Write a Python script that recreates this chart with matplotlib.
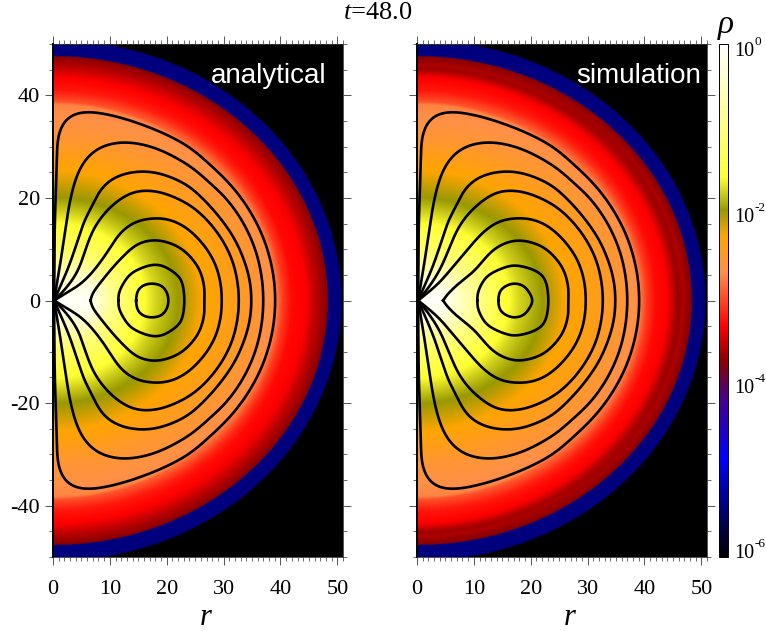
#!/usr/bin/env python
# -*- coding: utf-8 -*-
"""Density map and field lines at t=48: analytical solution vs simulation."""

import numpy as np
import matplotlib
matplotlib.use("Agg")
import matplotlib.pyplot as plt
from matplotlib.colors import LinearSegmentedColormap, LogNorm
from matplotlib.ticker import MultipleLocator

# log10(rho) read along the pole and along the midplane
R_POLE = [0, 5, 10, 15, 20, 26, 32, 38.3, 38.8, 41, 43.5, 45, 47.8]
LOG_POLE = [0, -0.53, -1.21, -1.56, -1.94, -2.28, -2.56, -2.73, -2.95, -3.2, -3.31, -3.48, -3.72]
R_EQ = [0, 7, 10, 15, 18, 22, 26, 30, 35, 39, 40.5, 42, 44.5, 46, 48.4]
LOG_EQ = [0, -0.13, -0.80, -1.47, -1.72, -1.94, -2.24, -2.34, -2.52, -2.69, -3.05, -3.26, -3.31, -3.5, -3.72]

# simulation has a few darker stripes in the outer shell
R_POLE_SIM = [0, 4, 10, 15, 20, 26, 32, 38.3, 38.8, 41, 43.5, 44.5, 45.3, 46, 46.6, 47.8]
LOG_POLE_SIM = [0, -0.34, -1.21, -1.56, -1.94, -2.28, -2.56, -2.73, -2.95, -3.2, -3.31, -3.5, -3.64, -3.56, -3.64, -3.72]
R_EQ_SIM = [0, 5, 10, 15, 18, 22, 26, 30, 35, 39, 40.5, 42, 44, 45, 46, 46.8, 47.6, 48.4]
LOG_EQ_SIM = [0, -0.11, -0.80, -1.47, -1.72, -1.94, -2.24, -2.34, -2.52, -2.69, -3.05, -3.26, -3.31, -3.48, -3.66, -3.56, -3.66, -3.72]

LOG_FLOOR = -5.4
R_SHELL_POLE = 47.7
R_SHELL_EQ = 48.4
R_OUTER = 50.8

# upper half of each field line, outer to inner (mirrored about z=0 when drawn)
LINES_ANALYTICAL = [
    ([0.2, 0.3, 0.65, 0.76, 1.2, 2.4, 4.2, 6.5, 9.5, 13.0, 17.1, 20.6, 24.1, 27.6, 31.2, 34.1, 36.4, 37.9, 38.8, 39.1],
     [0, 13.8, 26.2, 30.7, 33.3, 35.6, 36.6, 36.8, 36.3, 35.3, 33.7, 32.0, 29.8, 26.5, 22.6, 18.4, 13.8, 9.3, 4.7, 0]),
    ([0.2, 1.2, 2.1, 2.7, 3.6, 4.8, 6.5, 8.9, 12.4, 15.9, 19.4, 24.1, 27.6, 30.6, 33.5, 35.6, 36.7, 37.0],
     [0, 6.7, 13.2, 17.7, 22.3, 25.9, 28.5, 30.2, 30.9, 30.4, 29.1, 26.2, 22.9, 19.7, 15.1, 9.9, 4.7, 0]),
    ([0.2, 2.7, 4.2, 5.6, 6.9, 8.3, 10.6, 13.6, 16.5, 19.4, 23.5, 26.5, 29.4, 32.0, 33.8, 34.7, 34.9],
     [0, 6.4, 11.2, 15.8, 18.4, 21.6, 23.9, 25.0, 25.2, 24.6, 22.6, 19.7, 16.1, 11.9, 7.3, 3.4, 0]),
    ([0.2, 2.4, 4.5, 5.9, 7.4, 9.6, 11.8, 14.1, 16.5, 19.4, 23.5, 26.5, 29.4, 31.5, 32.5, 32.7],
     [0, 2.5, 6.0, 10.6, 14.5, 17.7, 19.8, 21.2, 21.5, 21.0, 19.0, 16.4, 12.5, 8.0, 3.4, 0]),
    ([0.2, 2.4, 4.8, 7.1, 9.5, 11.8, 14.7, 18.3, 20.6, 23.5, 26.5, 28.5, 29.5, 29.7],
     [0, 1.5, 3.1, 5.7, 9.3, 13.2, 15.5, 16.1, 15.8, 14.2, 10.9, 7.3, 3.4, 0]),
    ([6.6, 6.8, 9.5, 11.8, 14.7, 17.7, 20.6, 23.2, 25.6, 26.6, 26.6],
     [0, 1.2, 5.1, 8.0, 10.9, 11.8, 11.2, 9.6, 6.4, 2.8, 0]),
    ([11.5, 11.8, 13.6, 16.5, 18.8, 21.0, 22.6, 23.1],
     [0, 2.1, 5.1, 6.7, 6.9, 5.7, 3.8, 0]),
    ([14.6, 15.0, 16.2, 17.7, 19.2, 20.1, 20.3],
     [0, 2.1, 3.1, 3.3, 2.8, 1.4, 0]),
]
LINES_SIMULATION = [
    ([0.2, 0.3, 0.65, 0.76, 1.2, 2.4, 4.2, 6.5, 9.5, 13.0, 17.1, 20.6, 24.1, 27.6, 31.2, 34.1, 36.4, 37.9, 38.8, 39.1],
     [0, 13.8, 26.2, 30.7, 33.3, 35.6, 36.6, 36.8, 36.3, 35.3, 33.7, 32.0, 29.8, 26.5, 22.6, 18.4, 13.8, 9.3, 4.7, 0]),
    ([0.2, 1.2, 2.1, 2.7, 3.6, 4.8, 6.5, 8.9, 12.4, 15.9, 19.4, 24.1, 27.6, 30.6, 33.5, 35.6, 36.7, 37.0],
     [0, 6.7, 13.2, 17.7, 22.3, 25.9, 28.5, 30.2, 30.9, 30.4, 29.1, 26.2, 22.9, 19.7, 15.1, 9.9, 4.7, 0]),
    ([0.2, 2.7, 4.2, 5.6, 6.9, 8.3, 10.6, 13.6, 16.5, 19.4, 23.5, 26.5, 29.4, 32.0, 33.8, 34.7, 34.9],
     [0, 6.4, 11.2, 15.8, 18.4, 21.6, 23.9, 25.0, 25.2, 24.6, 22.6, 19.7, 16.1, 11.9, 7.3, 3.4, 0]),
    ([0.2, 1.8, 3.9, 5.6, 7.1, 9.15, 11.8, 14.1, 16.5, 19.4, 23.5, 26.5, 29.4, 31.5, 32.5, 32.7],
     [0, 2.15, 5.7, 9.95, 13.9, 17.1, 19.7, 21.2, 21.5, 21.0, 19.0, 16.4, 12.5, 8.0, 3.4, 0]),
    ([0.2, 3.6, 5.9, 8.9, 11.5, 14.4, 17.7, 20.6, 23.5, 26.5, 28.5, 29.5, 29.7],
     [0, 3.1, 6.0, 9.95, 13.2, 15.5, 16.1, 15.8, 14.2, 10.9, 7.3, 3.4, 0]),
    ([4.6, 4.75, 7.1, 10.0, 13.5, 17.1, 20.6, 23.2, 25.6, 26.6, 26.6],
     [0, 0.5, 3.1, 5.7, 9.95, 11.7, 11.2, 9.6, 6.4, 2.8, 0]),
    ([10.6, 10.9, 12.4, 15.3, 17.7, 21.0, 22.6, 23.1],
     [0, 2.15, 4.75, 6.4, 6.8, 5.7, 3.8, 0]),
    ([14.3, 14.8, 16.8, 18.8, 20.1, 20.3],
     [0, 2.15, 3.3, 2.8, 0.9, 0]),
]
# the two innermost lines are round on both sides, the others have a cusp
N_ROUND = 2

CB_TICKS = [1e0, 1e-2, 1e-4, 1e-6]
CB_EXPONENTS = ["0", "-2", "-4", "-6"]

plt.rcParams["font.family"] = "Liberation Serif"
plt.rcParams["mathtext.fontset"] = "custom"
plt.rcParams["mathtext.rm"] = "Liberation Serif"
plt.rcParams["mathtext.it"] = "Liberation Serif:italic"
plt.rcParams["axes.unicode_minus"] = False

# colour scale, positions are fractions of the 6 decades
cmap = LinearSegmentedColormap.from_list("rho", [
    (0.0, "#000000"), (0.10, "#000080"), (0.192, "#0000ff"), (0.315, "#4b0082"),
    (0.384, "#8b0000"), (0.45, "#ff0000"), (0.555, "#ff9048"), (0.625, "#ffa500"),
    (0.676, "#999900"), (0.74, "#ffff33"), (1.0, "#ffffff"),
], N=512)
norm = LogNorm(1e-6, 1e0)


def density_map(r_pole, log_pole, r_eq, log_eq):
    x = np.linspace(0, 51, 520)
    z = np.linspace(-50, 50, 1000)
    X, Z = np.meshgrid(x, z)
    R = np.hypot(X, Z)
    s = (X / np.maximum(R, 1e-6)) ** 2
    log_rho = (1 - s) * np.interp(R, r_pole, log_pole) + s * np.interp(R, r_eq, log_eq)
    log_rho[R > R_SHELL_POLE + (R_SHELL_EQ - R_SHELL_POLE) * s] = LOG_FLOOR
    log_rho[R > R_OUTER] = -6
    return 10.0 ** log_rho


def catmull_rom(px, py, closed=False, n=24):
    pts = np.column_stack([px, py])
    if closed:
        pts = np.vstack([pts[-1], pts, pts[:2]])
    else:
        pts = np.vstack([2 * pts[0] - pts[1], pts, 2 * pts[-1] - pts[-2]])
    t = np.linspace(0, 1, n, endpoint=False)[:, None]
    out = []
    for i in range(1, len(pts) - 2):
        p0, p1, p2, p3 = pts[i - 1], pts[i], pts[i + 1], pts[i + 2]
        out.append(0.5 * (2 * p1 + (p2 - p0) * t + (2 * p0 - 5 * p1 + 4 * p2 - p3) * t ** 2
                          + (3 * p1 - p0 - 3 * p2 + p3) * t ** 3))
    out.append(pts[-2][None, :])
    return np.vstack(out)


def smooth_curve(curve, closed=False, sigma=1.0, step=0.05):
    """Resample a spline by arc length and blur away the reading jitter."""
    dist = np.r_[0, np.cumsum(np.hypot(*np.diff(curve, axis=0).T))]
    s = np.arange(0, dist[-1] + step, step)
    half = min(int(4 * sigma / step), len(s) - 1)
    kernel = np.exp(-0.5 * (np.arange(-half, half + 1) * step / sigma) ** 2)
    kernel /= kernel.sum()

    def blur(v):
        if closed:
            padded = np.r_[v[-half - 1:-1], v, v[1:half + 1]]
        else:
            # point reflection keeps the cusp ends where they are
            padded = np.r_[2 * v[0] - v[half:0:-1], v, 2 * v[-1] - v[-2:-half - 2:-1]]
        return np.convolve(padded, kernel, mode="valid")

    return blur(np.interp(s, dist, curve[:, 0])), blur(np.interp(s, dist, curve[:, 1]))


def draw_panel(ax, field, lines, name, name_x):
    ax.imshow(field, extent=(0, 51, -50, 50), origin="lower", aspect="auto",
              cmap=cmap, norm=norm, interpolation="bilinear")
    for i, (lx, lz) in enumerate(lines):
        # walk from the left crossing over the top, round to the lower side
        full_x = list(lx) + list(lx[-2::-1])
        full_z = list(lz) + [-v for v in lz[-2::-1]]
        closed = i >= len(lines) - N_ROUND
        if closed:
            full_x, full_z = full_x[:-1], full_z[:-1]
            sigma = 0.5
        elif lx[0] > 1:
            sigma = 1.0
        else:
            sigma = 1.5
        curve = catmull_rom(full_x, full_z, closed=closed)
        cx, cz = smooth_curve(curve, closed=closed, sigma=sigma)
        ax.plot(cx, cz, color="black", lw=1.9, clip_on=False, solid_joinstyle="round")
    ax.set_xlim(0, 51)
    ax.set_ylim(-50, 50)
    ax.xaxis.set_major_locator(MultipleLocator(10))
    ax.xaxis.set_minor_locator(MultipleLocator(1))
    ax.yaxis.set_major_locator(MultipleLocator(20))
    ax.yaxis.set_minor_locator(MultipleLocator(5))
    ax.tick_params(which="major", direction="out", length=5.5, width=0.7, color="#555555",
                   top=True, right=True, labelsize=16)
    ax.tick_params(axis="x", which="major", pad=11)
    ax.tick_params(axis="y", which="major", pad=4)
    ax.tick_params(which="minor", direction="out", length=3, width=0.6, color="#555555",
                   top=True, right=True)
    for spine in ax.spines.values():
        spine.set_linewidth(0.6)
        spine.set_color("#333333")
    ax.spines["left"].set_linewidth(1.4)
    ax.spines["left"].set_color("black")
    ax.set_xlabel("r", style="italic", fontsize=22, labelpad=3, x=0.528)
    fig.text(name_x, 1 - 83 / H, name, color="white", ha="right", va="baseline",
             family="Liberation Sans", fontsize=20)


W, H = 766.0, 631.0
fig = plt.figure(figsize=(7.66, 6.31), dpi=100)
ax1 = fig.add_axes([53 / W, 1 - 557 / H, 290 / W, 513 / H])
ax2 = fig.add_axes([417 / W, 1 - 557 / H, 290 / W, 513 / H])
cax = fig.add_axes([719 / W, 1 - 557 / H, 9 / W, 513 / H])

draw_panel(ax1, density_map(R_POLE, LOG_POLE, R_EQ, LOG_EQ), LINES_ANALYTICAL, "analytical", 326 / W)
draw_panel(ax2, density_map(R_POLE_SIM, LOG_POLE_SIM, R_EQ_SIM, LOG_EQ_SIM), LINES_SIMULATION, "simulation", 701 / W)
ax2.tick_params(labelleft=False)

cb = fig.colorbar(plt.cm.ScalarMappable(norm=norm, cmap=cmap), cax=cax)
cb.set_ticks(CB_TICKS)
cb.set_ticklabels(["" for _ in CB_TICKS])
cb.ax.minorticks_off()
cb.ax.tick_params(length=0)
cb.outline.set_linewidth(0.7)

# labels built by hand so the exponent keeps a plain hyphen and stays inside the figure
for tick, exponent in zip(CB_TICKS, CB_EXPONENTS):
    py = min(max(557 - 513 * norm(tick) + 7, 56), 558)
    fig.text(734 / W, 1 - py / H, "10", ha="left", va="baseline", fontsize=14.5)
    fig.text(754.5 / W, 1 - (py - 11) / H, exponent, ha="left", va="baseline", fontsize=9.5)

fig.text(378 / W, 1 - 13 / H, r"$\mathit{t}$=48.0", ha="center", va="center", fontsize=19)
fig.text(726 / W, 1 - 25 / H, "ρ", style="italic", ha="center", va="center", fontsize=24,
         family=["Liberation Serif", "DejaVu Serif"])

fig.savefig("out.png", dpi=100)
